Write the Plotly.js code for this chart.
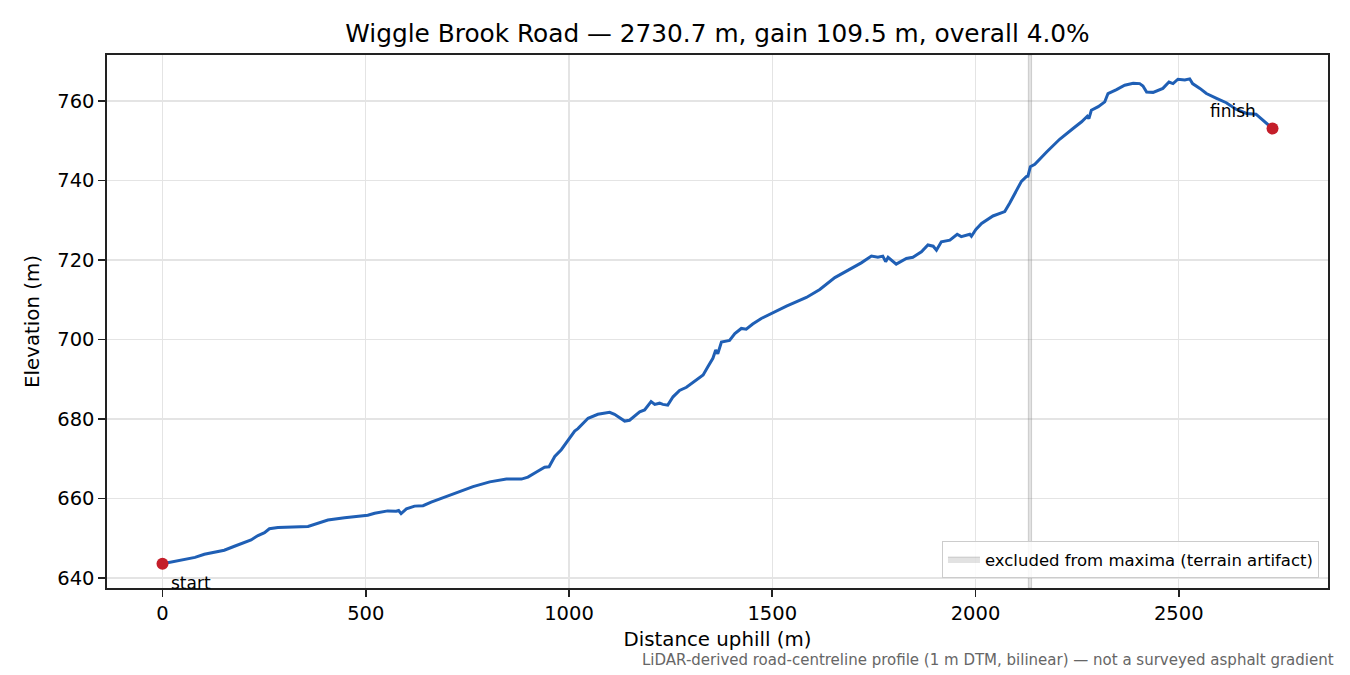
<!DOCTYPE html>
<html>
<head>
<meta charset="utf-8">
<script src="https://cdn.plot.ly/plotly-3.0.1.min.js"></script>
<style>html,body{margin:0;padding:0;background:#fff;}#chart{width:1350px;height:675px;}</style>
</head>
<body>
<div id="chart"></div>
<script>
// Distance uphill (m)
const distance = [0,25,54,62,80,103,152,177,218,235,251,263,284,358,374,407,448,472,505,522,554,575,581,587,600,620,641,661,694,723,764,805,846,883,899,920,940,951,965,981,997,1014,1022,1047,1071,1100,1112,1137,1149,1174,1186,1202,1211,1223,1231,1243,1256,1272,1289,1313,1330,1342,1354,1361,1366,1375,1395,1408,1424,1436,1452,1473,1498,1535,1584,1617,1654,1690,1719,1744,1760,1772,1779,1785,1805,1830,1846,1867,1883,1896,1904,1916,1937,1955,1965,1986,1990,2001,2015,2043,2072,2084,2101,2113,2125,2129,2135,2146,2175,2207,2240,2261,2275,2279,2285,2302,2318,2326,2347,2367,2388,2404,2412,2421,2437,2461,2476,2486,2498,2515,2527,2534,2552,2568,2593,2617,2642,2667,2690,2703,2730.7];
// Elevation (m)
const elevation = [643.6,644.1,644.5,644.7,645.2,646.0,647.0,648.0,649.6,650.7,651.4,652.4,652.7,653.0,653.5,654.6,655.2,655.5,655.8,656.3,656.9,656.8,657.0,656.2,657.4,658.1,658.2,659.1,660.3,661.5,663.0,664.2,664.9,664.9,665.4,666.7,667.9,668.0,670.6,672.3,674.7,677.0,677.6,680.2,681.2,681.7,681.2,679.5,679.7,681.8,682.3,684.4,683.7,684.0,683.7,683.5,685.6,687.2,688.0,689.8,691.1,693.2,695.3,697.4,696.4,699.4,699.8,701.5,702.8,702.6,703.9,705.3,706.6,708.4,710.6,712.6,715.6,717.6,719.3,721.0,720.7,721.0,719.6,720.7,719.0,720.4,720.7,722.1,723.8,723.5,722.5,724.6,725.0,726.5,725.9,726.5,726.0,727.7,729.2,731.1,732.2,734.3,737.6,739.8,741.0,741.1,743.5,744.1,747.2,750.4,753.1,754.8,756.2,755.6,757.7,758.6,759.8,761.9,762.9,764.0,764.5,764.4,763.8,762.3,762.2,763.2,764.8,764.4,765.5,765.3,765.6,764.4,763.2,761.9,760.7,759.6,757.9,756.9,756.7,755.6,753.1];
// Excluded span (terrain artifact)
const excludedSpan = [2130, 2138];
const xTicks = [0, 500, 1000, 1500, 2000, 2500];
const yTicks = [640, 660, 680, 700, 720, 740, 760];
const xRange = [-136.5, 2867.2];
const yRange = [637.5, 771.6];

const endpointsX = [distance[0], distance[distance.length - 1]];
const endpointsY = [elevation[0], elevation[elevation.length - 1]];

const font = "DejaVu Sans, sans-serif";

const traces = [
  {
    x: [excludedSpan[0], excludedSpan[1], excludedSpan[1], excludedSpan[0], excludedSpan[0]],
    y: [yRange[0], yRange[0], yRange[1], yRange[1], yRange[0]],
    type: "scatter", mode: "lines", fill: "toself",
    fillcolor: "rgba(140,140,140,0.25)",
    line: {color: "rgba(140,140,140,0.35)", width: 1},
    name: "excluded from maxima (terrain artifact)",
    showlegend: true, hoverinfo: "skip"
  },
  {
    x: distance, y: elevation, type: "scatter", mode: "lines",
    line: {color: "#1f5fb5", width: 3},
    showlegend: false
  },
  {
    x: endpointsX, y: endpointsY, type: "scatter", mode: "markers",
    marker: {color: "#c41e2a", size: 12},
    showlegend: false
  }
];

const axisCommon = {
  showline: true, linecolor: "#222", linewidth: 1.6, mirror: true,
  ticks: "outside", ticklen: 7, tickwidth: 1.6, tickcolor: "#222",
  showgrid: true, gridcolor: "#e4e4e4", gridwidth: 1.3, zeroline: false,
  tickfont: {family: font, size: 19.5, color: "#000"}
};

const layout = {
  width: 1350, height: 675,
  margin: {l: 107, r: 22, t: 55, b: 87},
  paper_bgcolor: "#fff", plot_bgcolor: "#fff",
  font: {family: font, color: "#000"},
  title: {
    text: "Wiggle Brook Road — 2730.7 m, gain 109.5 m, overall 4.0%",
    font: {family: font, size: 24.8, color: "#000"},
    x: 0.5315, xanchor: "center", y: 0.951, yanchor: "middle"
  },
  xaxis: Object.assign({}, axisCommon, {
    range: xRange, tickvals: xTicks, ticktext: xTicks.map(String),
    title: {text: "Distance uphill (m)", font: {family: font, size: 19.8, color: "#000"}, standoff: 8}
  }),
  yaxis: Object.assign({}, axisCommon, {
    range: yRange, tickvals: yTicks, ticktext: yTicks.map(String),
    title: {text: "Elevation (m)", font: {family: font, size: 19.8, color: "#000"}, standoff: 12}
  }),
  legend: {
    x: 0.9926, y: 0.019, xanchor: "right", yanchor: "bottom",
    bgcolor: "rgba(255,255,255,0.85)", bordercolor: "#cccccc", borderwidth: 1,
    font: {family: font, size: 16.5, color: "#000"},
    itemwidth: 32
  },
  annotations: [
    {x: endpointsX[0], y: endpointsY[0], xref: "x", yref: "y", text: "start",
     showarrow: false, xanchor: "left", yanchor: "middle", xshift: 7, yshift: -19,
     font: {family: font, size: 17, color: "#000"}},
    {x: endpointsX[1], y: endpointsY[1], xref: "x", yref: "y", text: "finish",
     showarrow: false, xanchor: "right", yanchor: "middle", xshift: -15, yshift: 18,
     font: {family: font, size: 17, color: "#000"}},
    {x: 1336, y: 660, xref: "paper", yref: "paper", text: "LiDAR-derived road-centreline profile (1 m DTM, bilinear) — not a surveyed asphalt gradient",
     showarrow: false, xanchor: "right", yanchor: "middle",
     font: {family: font, size: 15, color: "#666"}}
  ]
};
// convert footer position from pixels to paper coords
(function(){
  const pw = 1350 - layout.margin.l - layout.margin.r;
  const ph = 675 - layout.margin.t - layout.margin.b;
  const f = layout.annotations[2];
  f.x = (1336 - layout.margin.l) / pw;
  f.y = (675 - layout.margin.b - 660) / ph;
})();

Plotly.newPlot("chart", traces, layout, {displayModeBar: false, staticPlot: true});
</script>
</body>
</html>
